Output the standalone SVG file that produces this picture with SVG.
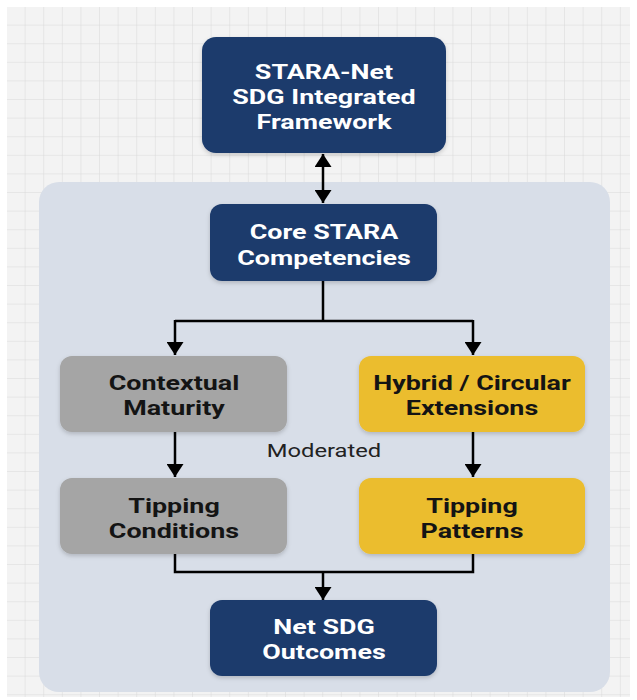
<svg xmlns="http://www.w3.org/2000/svg" width="637" height="700" viewBox="0 0 637 700">
<defs>
<pattern id="grid" width="18.6" height="18.6" patternUnits="userSpaceOnUse" x="7" y="7">
<rect width="18.6" height="18.6" fill="#f3f3f3"/>
<path d="M18.6 0V18.6M0 18.6H18.6" stroke="#d9d9d9" stroke-width="1" fill="none"/>
</pattern>
<filter id="sh" x="-10%" y="-10%" width="120%" height="130%">
<feDropShadow dx="0" dy="2" stdDeviation="2" flood-color="#000" flood-opacity="0.18"/>
</filter>
<marker id="ah" viewBox="0 0 13 17" refX="13" refY="8.5" markerWidth="13" markerHeight="17" markerUnits="userSpaceOnUse" orient="auto-start-reverse">
<path d="M0 0L13 8.5L0 17z" fill="#000"/>
</marker>
<style>
.t{font-family:Roboto,"Liberation Sans",sans-serif;font-weight:700;font-size:21px;text-anchor:middle}
.w{fill:#ffffff}
.d{fill:#141414}
.blue{fill:#1b3b6c}
.grey{fill:#a5a5a5}
.yel{fill:#ebbd2f}
.c{stroke:#000;stroke-width:2.5;fill:none}
</style>
</defs>
<rect width="637" height="700" fill="#ffffff"/>
<rect x="7" y="7" width="623" height="690" fill="url(#grid)"/>
<g id="panel">
<rect x="39" y="182" width="571" height="510" rx="20" fill="#d8dee8"/>
</g>
<g id="connectors">
<path class="c" d="M323 154V203" marker-start="url(#ah)" marker-end="url(#ah)"/>
<path class="c" d="M323 281V321M175 321H473"/>
<path class="c" d="M175 320V355" marker-end="url(#ah)"/>
<path class="c" d="M473 320V355" marker-end="url(#ah)"/>
<path class="c" d="M175 432V477" marker-end="url(#ah)"/>
<path class="c" d="M473 432V477" marker-end="url(#ah)"/>
<path class="c" d="M175 554V572H473V554"/>
<path class="c" d="M323 572V600" marker-end="url(#ah)"/>
</g>
<g id="top">
<rect class="blue" x="202" y="37" width="244" height="116" rx="14" filter="url(#sh)"/>
<g transform="translate(324 0) scale(1.28 1)">
<text class="t w" x="0" y="79">STARA-Net<tspan x="0" dy="25">SDG Integrated</tspan><tspan x="0" dy="25">Framework</tspan></text>
</g>
</g>
<g id="core">
<rect class="blue" x="210" y="204" width="227" height="77" rx="12" filter="url(#sh)"/>
<g transform="translate(324 0) scale(1.28 1)">
<text class="t w" x="0" y="239">Core STARA<tspan x="0" dy="26">Competencies</tspan></text>
</g>
</g>
<g id="contextual">
<rect class="grey" x="60" y="356" width="227" height="76" rx="12" filter="url(#sh)"/>
<g transform="translate(174 0) scale(1.28 1)">
<text class="t d" x="0" y="390">Contextual<tspan x="0" dy="25">Maturity</tspan></text>
</g>
</g>
<g id="hybrid">
<rect class="yel" x="359" y="356" width="226" height="76" rx="12" filter="url(#sh)"/>
<g transform="translate(472 0) scale(1.28 1)">
<text class="t d" x="0" y="390">Hybrid / Circular<tspan x="0" dy="25">Extensions</tspan></text>
</g>
</g>
<g id="moderated" transform="translate(324 0) scale(1.25 1)">
<text x="0" y="457" font-family="Roboto,'Liberation Sans',sans-serif" font-size="19" fill="#222" text-anchor="middle">Moderated</text>
</g>
<g id="conditions">
<rect class="grey" x="60" y="478" width="227" height="76" rx="12" filter="url(#sh)"/>
<g transform="translate(174 0) scale(1.28 1)">
<text class="t d" x="0" y="513">Tipping<tspan x="0" dy="25">Conditions</tspan></text>
</g>
</g>
<g id="patterns">
<rect class="yel" x="359" y="478" width="226" height="76" rx="12" filter="url(#sh)"/>
<g transform="translate(472 0) scale(1.28 1)">
<text class="t d" x="0" y="513">Tipping<tspan x="0" dy="25">Patterns</tspan></text>
</g>
</g>
<g id="net">
<rect class="blue" x="210" y="600" width="227" height="76" rx="12" filter="url(#sh)"/>
<g transform="translate(324 0) scale(1.28 1)">
<text class="t w" x="0" y="634">Net SDG<tspan x="0" dy="25">Outcomes</tspan></text>
</g>
</g>
</svg>
